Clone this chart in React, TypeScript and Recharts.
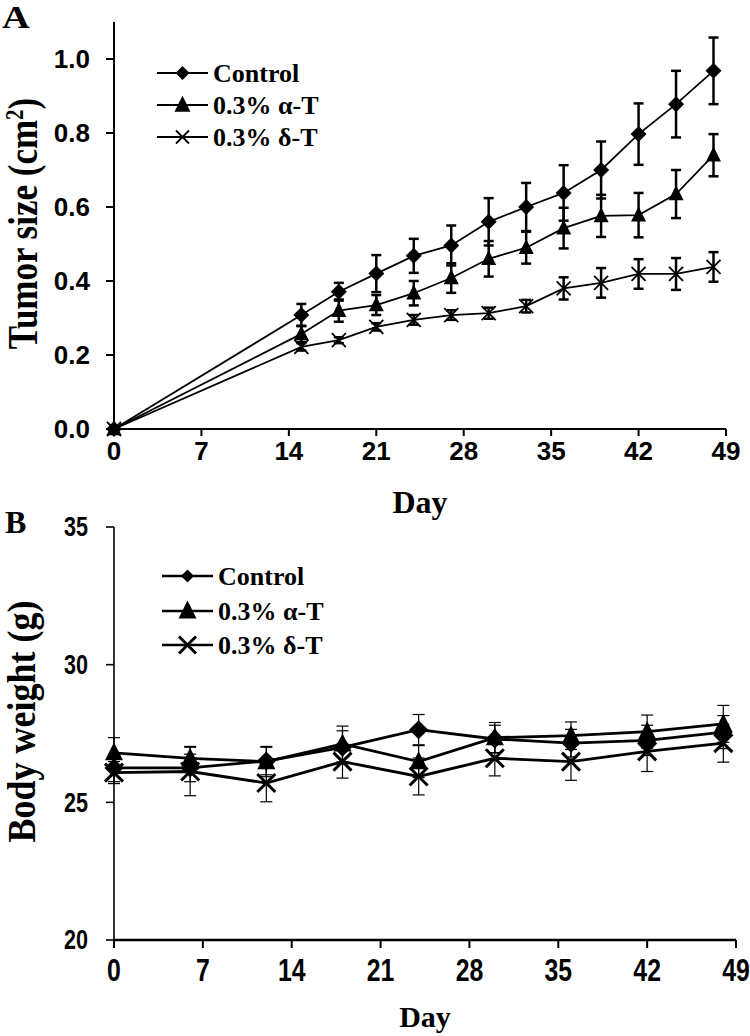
import React from 'react';
import { LineChart, Line, XAxis, YAxis, ErrorBar, Legend } from 'recharts';

// ---------- Panel A: tumor size ----------
const daysA = [0, 15, 18, 21, 24, 27, 30, 33, 36, 39, 42, 45, 48];
const controlA = [0, 0.308, 0.371, 0.42, 0.468, 0.496, 0.56, 0.6, 0.638, 0.7, 0.797, 0.878, 0.968];
const controlErrA = [0, 0.03, 0.024, 0.05, 0.046, 0.054, 0.064, 0.065, 0.075, 0.077, 0.083, 0.09, 0.09];
const alphaA = [0, 0.257, 0.32, 0.335, 0.367, 0.408, 0.46, 0.49, 0.543, 0.576, 0.578, 0.635, 0.74];
const alphaErrA = [0, 0.022, 0.03, 0.027, 0.033, 0.04, 0.048, 0.043, 0.055, 0.057, 0.06, 0.065, 0.057];
const deltaA = [0, 0.222, 0.24, 0.276, 0.295, 0.308, 0.313, 0.332, 0.38, 0.395, 0.419, 0.419, 0.438];
const deltaErrA = [0, 0.01, 0.008, 0.01, 0.013, 0.013, 0.015, 0.017, 0.03, 0.04, 0.04, 0.043, 0.04];
const yTicksA = [0, 0.2, 0.4, 0.6, 0.8, 1.0];

// ---------- Panel B: body weight ----------
const daysB = [0, 6, 12, 18, 24, 30, 36, 42, 48];
const controlB = [26.25, 26.25, 26.5, 27.0, 27.64, 27.3, 27.15, 27.25, 27.55];
const controlErrB = [0.5, 0.5, 0.5, 0.6, 0.55, 0.5, 0.5, 0.55, 0.6];
const alphaB = [26.8, 26.6, 26.48, 27.12, 26.48, 27.35, 27.42, 27.57, 27.85];
const alphaErrB = [0.55, 0.43, 0.55, 0.65, 0.58, 0.55, 0.5, 0.6, 0.67];
const deltaB = [26.08, 26.12, 25.7, 26.48, 25.94, 26.6, 26.48, 26.85, 27.15];
const deltaErrB = [0.4, 0.88, 0.68, 0.6, 0.67, 0.64, 0.68, 0.73, 0.69];
const yTicksB = [20, 25, 30, 35];

const xTicks = [0, 7, 14, 21, 28, 35, 42, 49];
const seriesNames = ['Control', '0.3% α-T', '0.3% δ-T'];
const seriesShapes = ['diamond', 'triangle', 'cross'];

const dataA = daysA.map((d, i) => ({
  day: d,
  ctrl: controlA[i], ctrlErr: controlErrA[i],
  alpha: alphaA[i], alphaErr: alphaErrA[i],
  delta: deltaA[i], deltaErr: deltaErrA[i],
}));
const dataB = daysB.map((d, i) => ({
  day: d,
  ctrl: controlB[i], ctrlErr: controlErrB[i],
  alpha: alphaB[i], alphaErr: alphaErrB[i],
  delta: deltaB[i], deltaErr: deltaErrB[i],
}));

const SERIF = "'Liberation Serif', 'Times New Roman', serif";
const SANS = "'Liberation Sans', Arial, sans-serif";

function Marker({ kind, cx, cy, size, sw }: any) {
  if (cx == null || cy == null || isNaN(cx) || isNaN(cy)) return null;
  const h = size / 2;
  if (kind === 'diamond') {
    return <polygon points={`${cx},${cy - h} ${cx + h},${cy} ${cx},${cy + h} ${cx - h},${cy}`} fill="#000" />;
  }
  if (kind === 'triangle') {
    return (
      <polygon
        points={`${cx},${cy - size * 0.58} ${cx + h},${cy + size * 0.42} ${cx - h},${cy + size * 0.42}`}
        fill="#000"
      />
    );
  }
  return (
    <g stroke="#000" strokeWidth={sw} fill="none">
      <line x1={cx - h} y1={cy - h} x2={cx + h} y2={cy + h} />
      <line x1={cx - h} y1={cy + h} x2={cx + h} y2={cy - h} />
    </g>
  );
}

const makeDot = (kind: string, size: number, sw: number, prefix: string) => (p: any) => (
  <Marker key={`${prefix}-${p.index}`} kind={kind} cx={p.cx} cy={p.cy} size={size} sw={sw} />
);

function LegendBox({ rowYs, lineX1, lineX2, textX, sizes, sw, lw, fontSize }: any) {
  return (
    <svg width={260} height={110} style={{ display: 'block', overflow: 'visible' }}>
      {seriesNames.map((name, i) => {
        const y = rowYs[i];
        const mx = (lineX1 + lineX2) / 2;
        return (
          <g key={name}>
            <line x1={lineX1} y1={y} x2={lineX2} y2={y} stroke="#000" strokeWidth={lw} />
            <Marker kind={seriesShapes[i]} cx={mx} cy={y} size={sizes[i]} sw={sw} />
            <text x={textX} y={y} dominantBaseline="central" fontFamily={SERIF} fontWeight={700} fontSize={fontSize} fill="#000">
              {name}
            </text>
          </g>
        );
      })}
    </svg>
  );
}

// Narrow bold tick labels for panel B (horizontally condensed sans)
const NarrowYTick = (props: any) => {
  const { x, y, payload } = props;
  return (
    <text transform={`translate(${x},${y}) scale(0.8,1)`} textAnchor="end" dominantBaseline="central"
      fontFamily={SANS} fontWeight={700} fontSize={27} fill="#000">
      {payload.value}
    </text>
  );
};
const NarrowXTick = (props: any) => {
  const { x, y, payload } = props;
  return (
    <text transform={`translate(${x},${y}) scale(0.8,1)`} textAnchor="middle" dy="0.71em"
      fontFamily={SANS} fontWeight={700} fontSize={31} fill="#000">
      {payload.value}
    </text>
  );
};

const YTitleA = (props: any) => {
  const vb = props.viewBox || { x: 0, y: 22, width: 114, height: 407 };
  const cx = vb.x + 37;
  const cy = vb.y + vb.height / 2 - 2;
  return (
    <text
      transform={`translate(${cx},${cy}) scale(1.2,1) rotate(-90)`}
      textAnchor="middle"
      fontFamily={SERIF}
      fontWeight={700}
      fontSize={35}
      fill="#000"
    >
      Tumor size (cm<tspan fontSize={21} dy={-12}>2</tspan><tspan dy={12}>)</tspan>
    </text>
  );
};

const YTitleB = (props: any) => {
  const vb = props.viewBox || { x: 0, y: 27, width: 114, height: 413 };
  const cx = vb.x + 35;
  const cy = vb.y + vb.height / 2 - 12;
  return (
    <text
      transform={`translate(${cx},${cy}) scale(1.12,1) rotate(-90)`}
      textAnchor="middle"
      fontFamily={SERIF}
      fontWeight={700}
      fontSize={36}
      fill="#000"
    >
      Body weight (g)
    </text>
  );
};

const XTitle = (dy: number, fs: number) => (props: any) => {
  const vb = props.viewBox || { x: 114, y: 429, width: 612, height: 96 };
  return (
    <text x={vb.x + vb.width / 2} y={vb.y + dy} textAnchor="middle" fontFamily={SERIF} fontWeight={700} fontSize={fs} fill="#000">
      Day
    </text>
  );
};

export default function App() {
  return (
    <div style={{ position: 'absolute', left: 0, top: 0, width: 750, height: 1036, background: '#fff', overflow: 'hidden' }}>
      {/* Panel A */}
      <div style={{ position: 'absolute', left: 0, top: 0 }}>
        <LineChart width={750} height={525} data={dataA} margin={{ top: 22, right: 24, bottom: 0, left: 0 }}>
          <XAxis
            dataKey="day"
            type="number"
            domain={[0, 49]}
            ticks={xTicks}
            interval={0}
            height={96}
            tickSize={7}
            tickMargin={6}
            tick={{ fontFamily: SANS, fontSize: 26, fontWeight: 700, fill: '#000' }}
            axisLine={{ stroke: '#000', strokeWidth: 2 }}
            tickLine={{ stroke: '#000', strokeWidth: 2 }}
            label={{ content: XTitle(84, 32) }}
          />
          <YAxis
            type="number"
            domain={[0, 1.1]}
            ticks={yTicksA}
            interval={0}
            width={114}
            tickSize={8}
            tickMargin={16}
            tickFormatter={(v: number) => v.toFixed(1)}
            tick={{ fontFamily: SANS, fontSize: 26, fontWeight: 700, fill: '#000' }}
            axisLine={{ stroke: '#000', strokeWidth: 2 }}
            tickLine={{ stroke: '#000', strokeWidth: 2 }}
            label={{ content: YTitleA }}
          />
          <Legend
            layout="horizontal"
            verticalAlign="middle"
            align="center"
            wrapperStyle={{ position: 'absolute', left: 150, top: 50, width: 260, height: 110 }}
            content={() => (
              <LegendBox rowYs={[23, 55, 87]} lineX1={7} lineX2={58} textX={63} sizes={[14, 16, 13]} sw={1.8} lw={2} fontSize={26} />
            )}
          />
          <Line dataKey="ctrl" stroke="#000" strokeWidth={1.8} isAnimationActive={false} activeDot={false} dot={makeDot('diamond', 16, 1.8, 'ca')}>
            <ErrorBar dataKey="ctrlErr" width={5} strokeWidth={2.5} stroke="#000" direction="y" />
          </Line>
          <Line dataKey="alpha" stroke="#000" strokeWidth={1.8} isAnimationActive={false} activeDot={false} dot={makeDot('triangle', 15, 1.8, 'aa')}>
            <ErrorBar dataKey="alphaErr" width={5} strokeWidth={2.5} stroke="#000" direction="y" />
          </Line>
          <Line dataKey="delta" stroke="#000" strokeWidth={1.8} isAnimationActive={false} activeDot={false} dot={makeDot('cross', 14, 1.8, 'da')}>
            <ErrorBar dataKey="deltaErr" width={5} strokeWidth={2.5} stroke="#000" direction="y" />
          </Line>
        </LineChart>
      </div>

      {/* Panel B */}
      <div style={{ position: 'absolute', left: 0, top: 500 }}>
        <LineChart width={750} height={536} data={dataB} margin={{ top: 27, right: 14, bottom: 0, left: 0 }}>
          <XAxis
            dataKey="day"
            type="number"
            domain={[0, 49]}
            ticks={xTicks}
            interval={0}
            height={96}
            tickSize={8}
            tickMargin={11}
            tick={<NarrowXTick />}
            axisLine={{ stroke: '#000', strokeWidth: 2.5 }}
            tickLine={{ stroke: '#000', strokeWidth: 2 }}
            label={{ content: XTitle(87, 30) }}
          />
          <YAxis
            type="number"
            domain={[20, 35]}
            ticks={yTicksB}
            interval={0}
            width={114}
            tickSize={8}
            tickMargin={18}
            tick={<NarrowYTick />}
            axisLine={{ stroke: '#000', strokeWidth: 1.6 }}
            tickLine={{ stroke: '#000', strokeWidth: 1.6 }}
            label={{ content: YTitleB }}
          />
          <Legend
            layout="horizontal"
            verticalAlign="middle"
            align="center"
            wrapperStyle={{ position: 'absolute', left: 155, top: 55, width: 260, height: 110 }}
            content={() => (
              <LegendBox rowYs={[21, 56, 90]} lineX1={7} lineX2={58} textX={63} sizes={[13, 18, 17]} sw={3} lw={2.4} fontSize={26} />
            )}
          />
          <Line dataKey="ctrl" stroke="#000" strokeWidth={2.8} isAnimationActive={false} activeDot={false} dot={makeDot('diamond', 19, 3, 'cb')}>
            <ErrorBar dataKey="ctrlErr" width={6} strokeWidth={1.2} stroke="#000" direction="y" />
          </Line>
          <Line dataKey="alpha" stroke="#000" strokeWidth={2.8} isAnimationActive={false} activeDot={false} dot={makeDot('triangle', 18, 3, 'ab')}>
            <ErrorBar dataKey="alphaErr" width={6} strokeWidth={1.2} stroke="#000" direction="y" />
          </Line>
          <Line dataKey="delta" stroke="#000" strokeWidth={2.8} isAnimationActive={false} activeDot={false} dot={makeDot('cross', 18, 3, 'db')}>
            <ErrorBar dataKey="deltaErr" width={6} strokeWidth={1.2} stroke="#000" direction="y" />
          </Line>
        </LineChart>
      </div>

      {/* Panel letters */}
      <svg width={750} height={1036} style={{ position: 'absolute', left: 0, top: 0, pointerEvents: 'none' }}>
        <text transform="translate(2,28) scale(1.2,1)" fontFamily={SERIF} fontWeight={700} fontSize={32} fill="#000">A</text>
        <text x={5} y={533} fontFamily={SERIF} fontWeight={700} fontSize={32} fill="#000">B</text>
      </svg>
    </div>
  );
}
